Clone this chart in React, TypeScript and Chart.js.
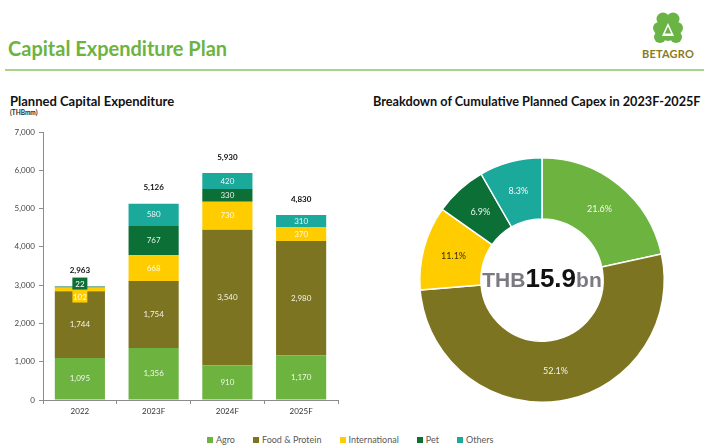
import React, { useEffect, useRef } from "react";
import { Chart, registerables } from "chart.js";

Chart.register(...registerables);

// ---------- data ----------
const categories = ["2022", "2023F", "2024F", "2025F"];
const seriesNames = ["Agro", "Food & Protein", "International", "Pet", "Others"];
const agro = [1095, 1356, 910, 1170];
const foodProtein = [1744, 1754, 3540, 2980];
const international = [102, 668, 730, 370];
const pet = [22, 767, 330, 0];
const others = [0, 580, 420, 310];
const totals = [2963, 5126, 5930, 4830];
const yMax = 7000;
const yStep = 1000;

const shareNames = ["Agro", "Food & Protein", "International", "Pet", "Others"];
const shares = [21.6, 52.1, 11.1, 6.9, 8.3];
const centerPrefix = "THB";
const centerValue = "15.9";
const centerSuffix = "bn";

const seriesColors = ["#6DB33F", "#7C7420", "#FFCC00", "#0B6F36", "#1BA99C"];
const FONT = "Lato, 'Open Sans', sans-serif";

const fmt = (v: number) => v.toLocaleString("en-US");

// ---------- plugins ----------
const barLabelsPlugin = {
  id: "barLabels",
  afterDatasetsDraw(chart: any) {
    const ctx = chart.ctx;
    const ys = chart.scales.y;
    ctx.save();
    ctx.textAlign = "center";
    ctx.textBaseline = "middle";
    const nDs = chart.data.datasets.length;
    for (let i = 0; i < categories.length; i++) {
      const top = ys.getPixelForValue(totals[i]);
      let small = 0;
      let x = 0;
      for (let d = nDs - 1; d >= 0; d--) {
        const v = chart.data.datasets[d].data[i] as number;
        const el = chart.getDatasetMeta(d).data[i] as any;
        x = el.x;
        if (!v) continue;
        const h = Math.abs(el.base - el.y);
        const text = fmt(v);
        ctx.font = `8px ${FONT}`;
        if (h < 8) {
          const cy = top - 3 + small * 13;
          const w = 15;
          ctx.fillStyle = seriesColors[d];
          ctx.fillRect(el.x - w / 2, cy - 6, w, 12);
          ctx.fillStyle = "#ffffff";
          ctx.fillText(text, el.x, cy + 0.5);
          small++;
        } else {
          ctx.fillStyle = "rgba(255,255,255,0.9)";
          ctx.fillText(text, el.x, (el.y + el.base) / 2);
        }
      }
      ctx.font = `bold 8px ${FONT}`;
      ctx.fillStyle = "#111111";
      ctx.fillText(fmt(totals[i]), x, top - 16);
    }
    ctx.restore();
  },
};

const donutLabelsPlugin = {
  id: "donutLabels",
  afterDatasetsDraw(chart: any) {
    const ctx = chart.ctx;
    const meta = chart.getDatasetMeta(0);
    ctx.save();
    ctx.textAlign = "center";
    ctx.textBaseline = "middle";
    ctx.font = `9px ${FONT}`;
    meta.data.forEach((arc: any, i: number) => {
      const p = arc.tooltipPosition();
      ctx.fillStyle = i === 2 ? "#3a3000" : "rgba(255,255,255,0.92)";
      ctx.fillText(shares[i].toFixed(1) + "%", p.x, p.y);
    });
    // center text
    const arc0 = meta.data[0] as any;
    const cx = arc0.x;
    const cy = arc0.y;
    const fSmall = "bold 21px 'Liberation Sans', Arial, sans-serif";
    const fBig = "bold 26px 'Liberation Sans', Arial, sans-serif";
    ctx.font = fSmall;
    const w1 = ctx.measureText(centerPrefix).width;
    const w3 = ctx.measureText(centerSuffix).width;
    ctx.font = fBig;
    const w2 = ctx.measureText(centerValue).width;
    let x = cx - (w1 + w2 + w3) / 2;
    ctx.textAlign = "left";
    ctx.textBaseline = "alphabetic";
    const base = cy + 7;
    ctx.font = fSmall;
    ctx.fillStyle = "#7a7a80";
    ctx.fillText(centerPrefix, x, base);
    x += w1;
    ctx.font = fBig;
    ctx.fillStyle = "#111111";
    ctx.fillText(centerValue, x, base);
    x += w2;
    ctx.font = fSmall;
    ctx.fillStyle = "#7a7a80";
    ctx.fillText(centerSuffix, x, base);
    ctx.restore();
  },
};

// ---------- components ----------
function BarChart() {
  const ref = useRef<HTMLCanvasElement>(null);
  useEffect(() => {
    const seriesData = [agro, foodProtein, international, pet, others];
    const chart = new Chart(ref.current!, {
      type: "bar",
      data: {
        labels: categories,
        datasets: seriesNames.map((name, i) => ({
          label: name,
          data: seriesData[i],
          backgroundColor: seriesColors[i],
          barPercentage: 0.68,
          categoryPercentage: 1,
        })),
      },
      options: {
        animation: false,
        responsive: false,
        layout: { padding: { top: 14, right: 7, left: 0, bottom: 0 } },
        plugins: { legend: { display: false }, tooltip: { enabled: false } },
        scales: {
          x: {
            stacked: true,
            grid: { display: true, drawOnChartArea: false, drawTicks: true, tickLength: 4, color: "#8c8c8c" },
            border: { display: true, color: "#8c8c8c" },
            ticks: { color: "#333333", font: { size: 8, family: FONT }, padding: 3 },
            afterFit: (s: any) => { s.height = 23; },
          },
          y: {
            stacked: true,
            min: 0,
            max: yMax,
            grid: { display: true, drawOnChartArea: false, drawTicks: true, tickLength: 4, color: "#8c8c8c" },
            border: { display: true, color: "#8c8c8c" },
            ticks: {
              stepSize: yStep,
              color: "#444444",
              font: { size: 8, family: FONT },
              padding: 4,
              callback: (v: any) => fmt(Number(v)),
            },
            afterFit: (s: any) => { s.width = 43; },
          },
        },
      },
      plugins: [barLabelsPlugin],
    });
    return () => chart.destroy();
  }, []);
  return (
    <canvas
      ref={ref}
      width={345}
      height={305}
      style={{ position: "absolute", left: 0, top: 118, width: 345, height: 305 }}
    />
  );
}

function DonutChart() {
  const ref = useRef<HTMLCanvasElement>(null);
  useEffect(() => {
    const chart = new Chart(ref.current!, {
      type: "doughnut",
      data: {
        labels: shareNames,
        datasets: [
          {
            data: shares,
            backgroundColor: seriesColors,
            borderColor: "#ffffff",
            borderWidth: 1.5,
          },
        ],
      },
      options: {
        animation: false,
        responsive: false,
        cutout: "50%",
        layout: { padding: 7 },
        plugins: { legend: { display: false }, tooltip: { enabled: false } },
      },
      plugins: [donutLabelsPlugin],
    });
    return () => chart.destroy();
  }, []);
  return (
    <canvas
      ref={ref}
      width={284}
      height={260}
      style={{ position: "absolute", left: 400, top: 150, width: 284, height: 260 }}
    />
  );
}

function Logo() {
  return (
    <div style={{ position: "absolute", left: 636, top: 10, width: 64, height: 52 }}>
      <svg width="64" height="36" viewBox="0 0 64 36" style={{ position: "absolute", left: 0, top: 0 }}>
        <g fill="#6AB446">
          <circle cx="27" cy="9" r="6.5" />
          <circle cx="37" cy="9" r="6.5" />
          <circle cx="23" cy="18" r="6" />
          <circle cx="41" cy="18" r="6" />
          <circle cx="24" cy="27" r="6" />
          <circle cx="40" cy="27" r="6" />
          <circle cx="32" cy="22" r="9" />
        </g>
        <polygon points="32,13 38,26 26,26" fill="#ffffff" />
        <polygon points="32,16.5 35.2,23.5 28.8,23.5" fill="#6AB446" />
      </svg>
      <div
        style={{
          position: "absolute",
          left: 0,
          top: 37,
          width: 64,
          textAlign: "center",
          font: `bold 11px ${FONT}`,
          color: "#8A7B22",
          letterSpacing: 0.2,
        }}
      >
        BETAGRO
      </div>
    </div>
  );
}

function Legend() {
  return (
    <div
      style={{
        position: "absolute",
        left: 207,
        top: 434,
        display: "flex",
        gap: 18,
        font: `9px ${FONT}`,
        color: "#595959",
        whiteSpace: "nowrap",
      }}
    >
      {seriesNames.map((n, i) => (
        <div key={n} style={{ display: "flex", alignItems: "center", gap: 3 }}>
          <span style={{ width: 6, height: 6, background: seriesColors[i], display: "inline-block" }} />
          <span>{n}</span>
        </div>
      ))}
    </div>
  );
}

export default function App() {
  return (
    <div
      style={{
        position: "absolute",
        left: 0,
        top: 0,
        width: 704,
        height: 446,
        background: "#ffffff",
        overflow: "hidden",
        fontFamily: FONT,
      }}
    >
      <div
        style={{
          position: "absolute",
          left: 8,
          top: 36,
          font: `bold 20px ${FONT}`,
          color: "#6DB33F",
          whiteSpace: "nowrap",
        }}
      >
        Capital Expenditure Plan
      </div>
      <Logo />
      <div style={{ position: "absolute", left: 5, top: 69, width: 699, height: 1.5, background: "#A8D38A" }} />
      <div
        style={{
          position: "absolute",
          left: 10,
          top: 93,
          font: `bold 13px ${FONT}`,
          color: "#111111",
          whiteSpace: "nowrap",
        }}
      >
        Planned Capital Expenditure
      </div>
      <div
        style={{
          position: "absolute",
          left: 10,
          top: 109,
          font: `bold 6.5px ${FONT}`,
          color: "#222222",
          whiteSpace: "nowrap",
        }}
      >
        (THBmm)
      </div>
      <div
        style={{
          position: "absolute",
          left: 373,
          top: 93,
          font: `bold 12.7px ${FONT}`,
          color: "#111111",
          whiteSpace: "nowrap",
        }}
      >
        Breakdown of Cumulative Planned Capex in 2023F-2025F
      </div>
      <BarChart />
      <DonutChart />
      <Legend />
    </div>
  );
}
